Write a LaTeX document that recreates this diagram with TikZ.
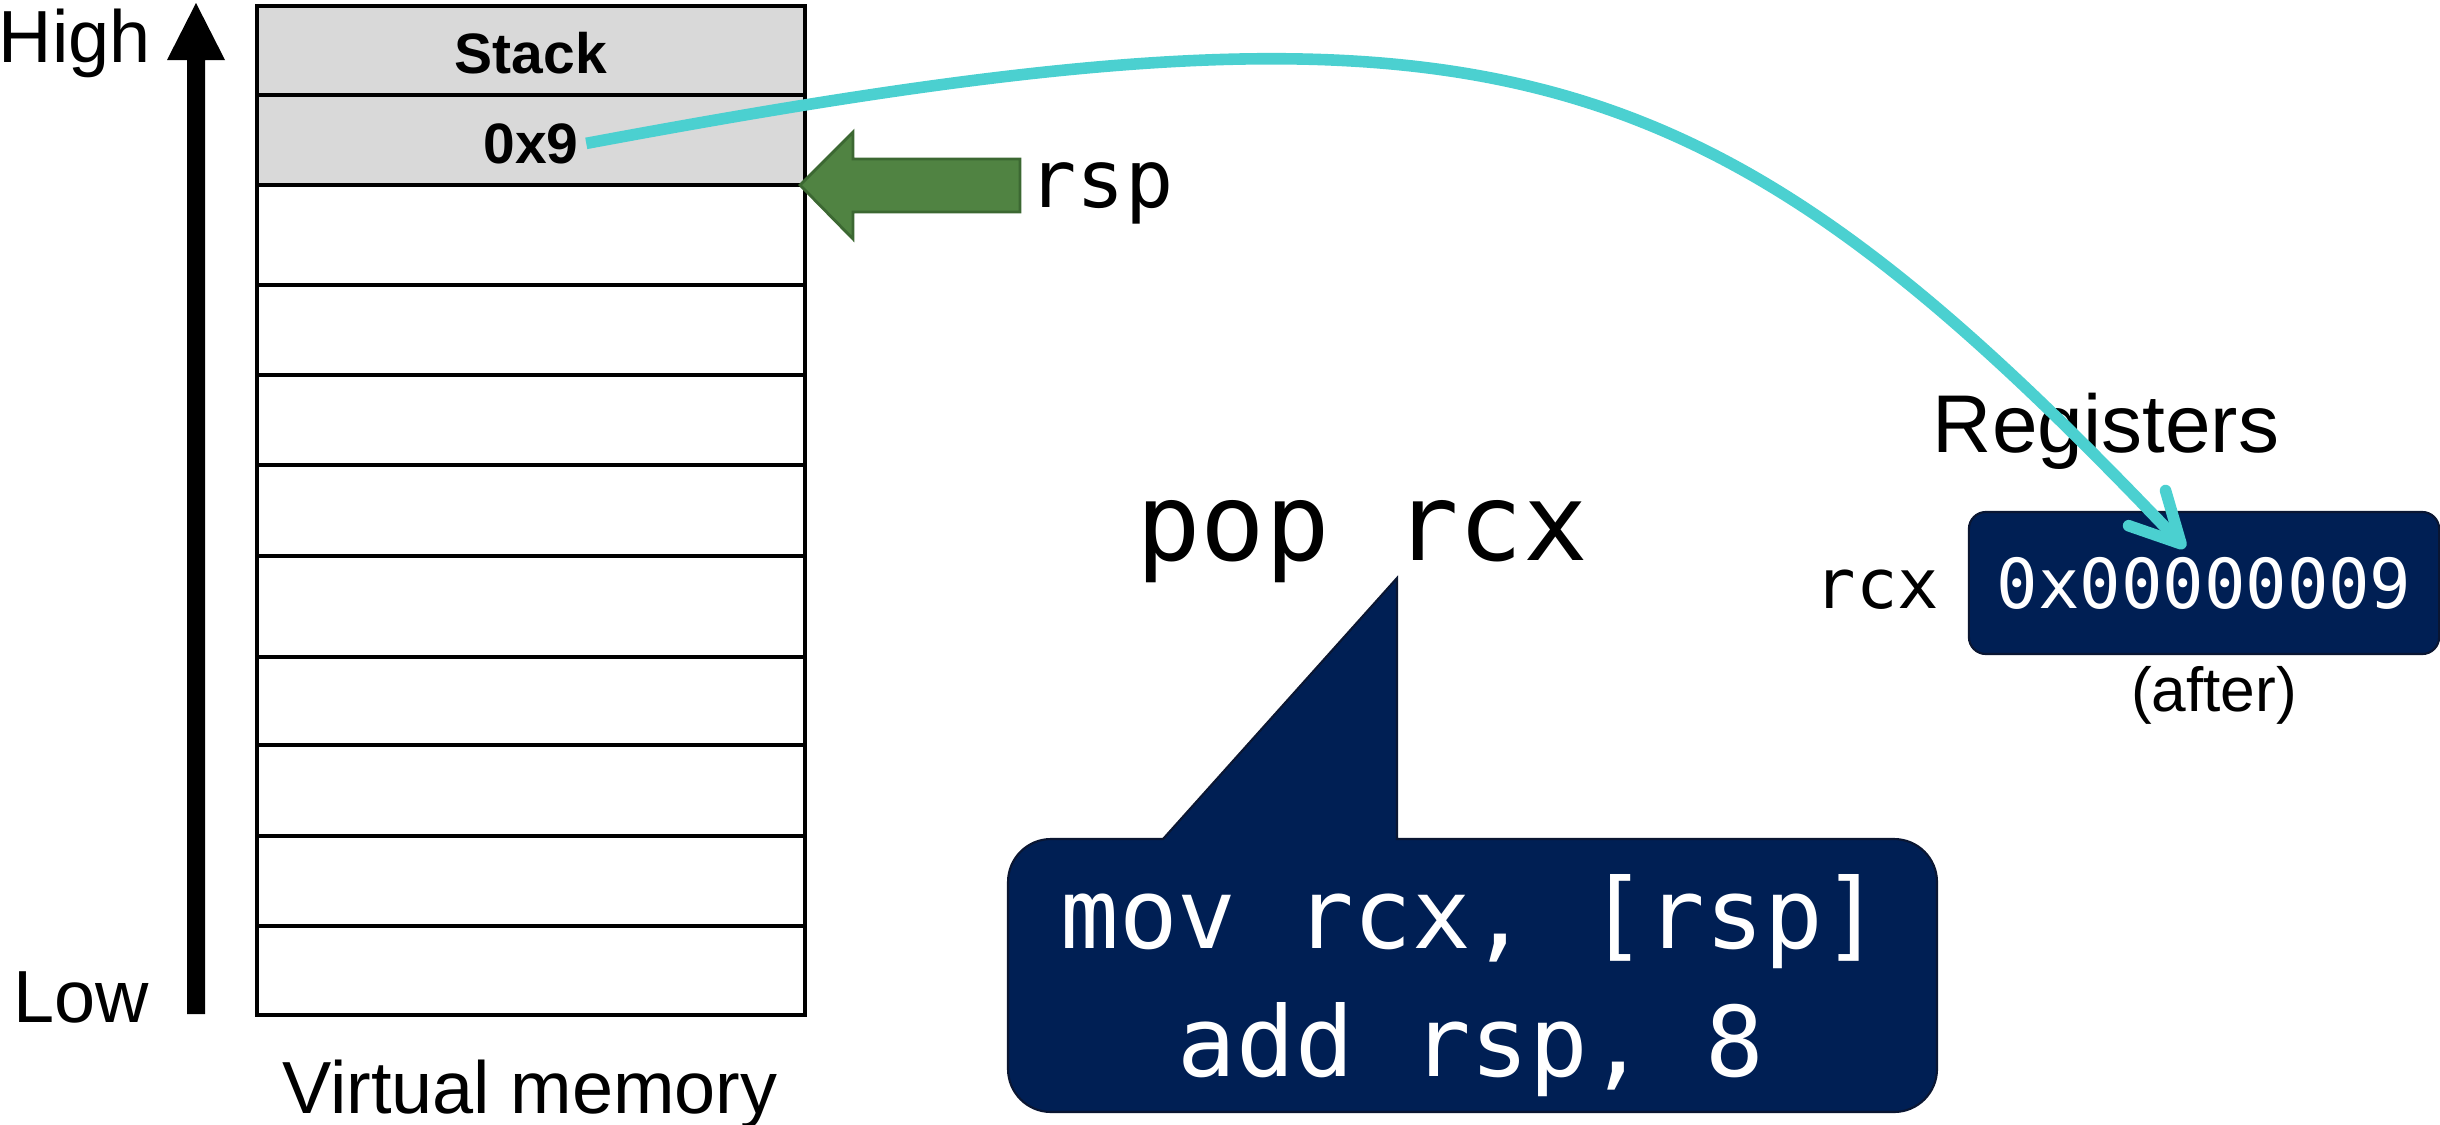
\documentclass[tikz,border=0pt]{standalone}
\usepackage{fontspec}
\setmainfont{Liberation Sans}
\newfontfamily\monof{DejaVu Sans Mono}
\usetikzlibrary{arrows.meta}
\definecolor{navy}{RGB}{0,31,84}
\definecolor{navyedge}{RGB}{10,22,50}
\definecolor{cyanline}{RGB}{75,208,208}
\definecolor{rspgreen}{RGB}{80,131,66}
\definecolor{rspgreendark}{RGB}{60,104,50}
\definecolor{cellgray}{RGB}{217,217,217}
\begin{document}
\begin{tikzpicture}[x=0.01cm,y=-0.01cm,
  cell/.style={draw=black, line width=1pt},
  txt/.style={inner sep=0pt, anchor=base},
  sansbig/.style={txt, font=\fontsize{21}{25}\selectfont},
  cellbold/.style={txt, font=\fontsize{16.2}{19}\selectfont\bfseries},
  monorsp/.style={txt, font=\fontsize{22.8}{27}\selectfont\monof},
  monopop/.style={txt, font=\fontsize{30.5}{36}\selectfont\monof},
  monocode/.style={txt, text=white, font=\fontsize{27.7}{33}\selectfont\monof},
  monoreg/.style={txt, font=\fontsize{19.6}{23}\selectfont\monof},
  regbox/.style={fill=navy, draw=navyedge, line width=0.6pt, rounded corners=0.17cm,
    minimum width=4.70cm, minimum height=1.42cm, inner sep=0pt, text=white,
    font=\fontsize{19.6}{23}\selectfont\monof},
  flow/.style={draw=cyanline, line width=3.3pt,
    -{Straight Barb[length=14pt,width=14.5pt,round]}}
]
\useasboundingbox (0,0) rectangle (2440,1124);

% memory table
\filldraw[cell, fill=cellgray] (257,6) rectangle (805,95);
\filldraw[cell, fill=cellgray] (257,95) rectangle (805,185);
\foreach \a/\b in {185/285, 285/375, 375/465, 465/556, 556/657, 657/745, 745/836, 836/926, 926/1015}
  \draw[cell] (257,\a) rectangle (805,\b);
\node[cellbold] (stack) at (531,73) {Stack};
\node[cellbold, inner sep=2pt] (n09) at (531,163) {0x9};

% high/low arrow
\fill[black] (187,1014) -- (205,1014) -- (205,60) -- (225,60) -- (196,3) -- (167,60) -- (187,60) -- cycle;
\node[sansbig, anchor=base west] (high) at (-2,62) {High};
\node[sansbig, anchor=base west] (low) at (13,1022) {Low};
\node[sansbig] (vm) at (530,1113) {Virtual memory};

% rsp pointer
\filldraw[fill=rspgreen, draw=rspgreendark, line width=0.8pt]
  (800,185) -- (853,132) -- (853,159) -- (1020,159) -- (1020,212) -- (853,212) -- (853,239) -- cycle;
\node[monorsp, anchor=base west] (rsp) at (1028,207) {rsp};

% instruction and bubble
\node[monopop] (pop) at (1362,560) {pop rcx};
\filldraw[fill=navy, draw=navyedge, line width=0.6pt]
  (1600,839) [rounded corners=0.43cm] -- (1937,839) -- (1937,1112) -- (1008,1112) -- (1008,839) -- (1100,839)
  [sharp corners] -- (1163,839) -- (1397,578) -- (1397,839) -- cycle;
\node[monocode] (code1) at (1471,948) {mov rcx, [rsp]};
\node[monocode] (code2) at (1471,1076) {add rsp, 8};

% registers
\node[sansbig, font=\fontsize{23.3}{28}\selectfont] (regs) at (2106,452) {Registers};
\node[regbox] (reg) at (2204,583) {0x00000009};
\node[monoreg] (rcxl) at (1877,608) {rcx};
\node[txt, font=\fontsize{17.7}{21}\selectfont] (after) at (2214,711) {(after)};

% data flow
\coordinate (tip) at (2185,548);
\draw[flow] (n09.east) .. controls +(900,-168) and +(-490,-515) .. (tip);
\end{tikzpicture}
\end{document}
